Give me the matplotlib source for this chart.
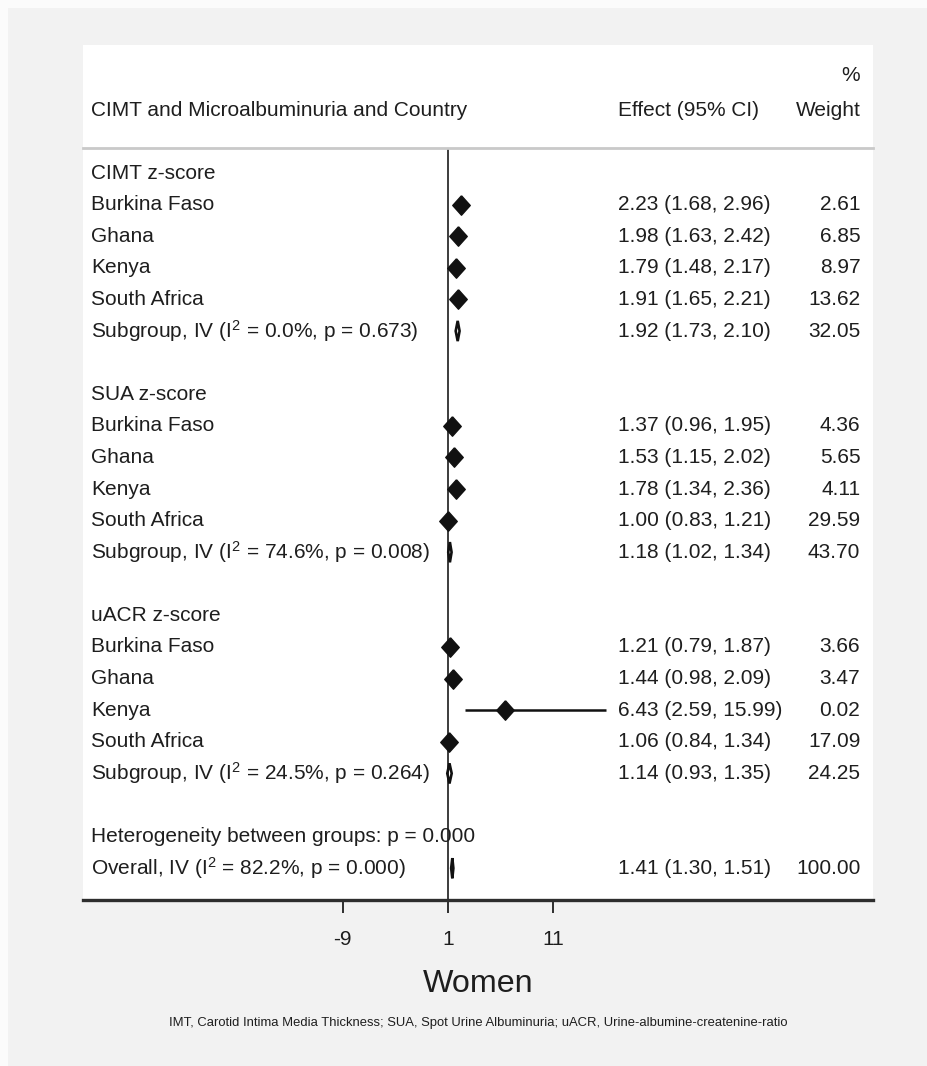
import matplotlib
matplotlib.use("Agg")
import matplotlib.pyplot as plt
from matplotlib import font_manager
from matplotlib.patches import Rectangle, Polygon

# ---------------- data ----------------
group_names = ["CIMT z-score", "SUA z-score", "uACR z-score"]
countries = ["Burkina Faso", "Ghana", "Kenya", "South Africa"]

cimt_est = [2.23, 1.98, 1.79, 1.91]
cimt_lo = [1.68, 1.63, 1.48, 1.65]
cimt_hi = [2.96, 2.42, 2.17, 2.21]
cimt_w = [2.61, 6.85, 8.97, 13.62]

sua_est = [1.37, 1.53, 1.78, 1.00]
sua_lo = [0.96, 1.15, 1.34, 0.83]
sua_hi = [1.95, 2.02, 2.36, 1.21]
sua_w = [4.36, 5.65, 4.11, 29.59]

uacr_est = [1.21, 1.44, 6.43, 1.06]
uacr_lo = [0.79, 0.98, 2.59, 0.84]
uacr_hi = [1.87, 2.09, 15.99, 1.34]
uacr_w = [3.66, 3.47, 0.02, 17.09]

sub_est = [1.92, 1.18, 1.14]
sub_lo = [1.73, 1.02, 0.93]
sub_hi = [2.10, 1.34, 1.35]
sub_w = [32.05, 43.70, 24.25]
sub_i2 = [0.0, 74.6, 24.5]
sub_p = [0.673, 0.008, 0.264]

overall_est, overall_lo, overall_hi, overall_w = 1.41, 1.30, 1.51, 100.00
overall_i2, overall_p = 82.2, 0.000
between_p = 0.000

xticks = [-9, 1, 11]
header_left = "CIMT and Microalbuminuria and Country"
header_effect = "Effect (95% CI)"
header_weight = ["%", "Weight"]
xlabel = "Women"
footnote = ("IMT, Carotid Intima Media Thickness; SUA, Spot Urine Albuminuria; "
            "uACR, Urine-albumine-createnine-ratio")

# ---------------- fonts ----------------
names = {f.name for f in font_manager.fontManager.ttflist}
if "Liberation Sans Narrow" in names:
    FAM = ["Liberation Sans Narrow", "Liberation Sans", "DejaVu Sans"]
    k = 1.0
else:
    FAM = ["Liberation Sans", "DejaVu Sans"]
    k = 0.86
plt.rcParams["font.family"] = FAM
plt.rcParams["mathtext.fontset"] = "custom"
plt.rcParams["mathtext.rm"] = FAM[0]
plt.rcParams["mathtext.it"] = FAM[0]
plt.rcParams["mathtext.bf"] = FAM[0]
FS = 17.5 * k
TXT = "#1e1e1e"

# ---------------- figure ----------------
W, H = 928, 1066
fig = plt.figure(figsize=(W / 100, H / 100), dpi=100)
fig.patch.set_facecolor("#fbfbfb")


def fx(px):
    return px / W


def fy(py):
    return (H - py) / H


# grey background and white panel
fig.add_artist(Rectangle((fx(8), 0), 1 - fx(8), fy(8), transform=fig.transFigure,
                         facecolor="#f2f2f2", edgecolor="none", zorder=0))
fig.add_artist(Rectangle((fx(83), fy(900)), fx(873) - fx(83), fy(45) - fy(900),
                         transform=fig.transFigure, facecolor="white",
                         edgecolor="none", zorder=0.5))

ax = fig.add_axes([fx(83), fy(900), fx(873) - fx(83), fy(148) - fy(900)])
ax.set_facecolor("none")
ax.set_zorder(2)

# rows
rows = []  # (kind, label, est, lo, hi, w)
groups = [
    (cimt_est, cimt_lo, cimt_hi, cimt_w),
    (sua_est, sua_lo, sua_hi, sua_w),
    (uacr_est, uacr_lo, uacr_hi, uacr_w),
]
for g, (e, lo, hi, w) in enumerate(groups):
    rows.append(("head", group_names[g], None, None, None, None))
    for c in range(len(countries)):
        rows.append(("study", countries[c], e[c], lo[c], hi[c], w[c]))
    rows.append(("pool", f"Subgroup, IV (I$^{{2}}$ = {sub_i2[g]:.1f}%, p = {sub_p[g]:.3f})",
                 sub_est[g], sub_lo[g], sub_hi[g], sub_w[g]))
    rows.append(("blank", "", None, None, None, None))
rows.append(("head", f"Heterogeneity between groups: p = {between_p:.3f}",
             None, None, None, None))
rows.append(("pool", f"Overall, IV (I$^{{2}}$ = {overall_i2:.1f}%, p = {overall_p:.3f})",
             overall_est, overall_lo, overall_hi, overall_w))

px_per_unit = 10.53
xmin = 1 + (83 - 448) / px_per_unit
xmax = 1 + (873 - 448) / px_per_unit
ax.set_xlim(xmin, xmax)
row_h = 31.6
ax.set_ylim((900 - 173) / row_h, -(173 - 148) / row_h)

ax.axvline(1, color="#3c3c3c", lw=1.4, zorder=1)

ytr = ax.get_yaxis_transform()
diamond = [(0, 1), (0.9, 0), (0, -1), (-0.9, 0), (0, 1)]
ph = 0.32
XL, XE, XW = 0.0105, 0.677, 0.984
for i, (kind, label, e, lo, hi, w) in enumerate(rows):
    if kind == "blank":
        continue
    ax.text(XL, i, label, transform=ytr, ha="left", va="center",
            fontsize=FS, color=TXT, zorder=3)
    if kind == "study":
        ax.hlines(i, lo, hi, color="#111111", lw=1.8, zorder=3)
        ax.plot([e], [i], marker=diamond, ms=14, color="#111111",
                mec="#111111", zorder=4, ls="none")
    if kind == "pool":
        ax.add_patch(Polygon([(lo, i), (e, i - ph), (hi, i), (e, i + ph)],
                             closed=True, facecolor="none", edgecolor="#111111",
                             lw=1.9, zorder=4))
    if kind in ("study", "pool"):
        ax.text(XE, i, f"{e:.2f} ({lo:.2f}, {hi:.2f})", transform=ytr,
                ha="left", va="center", fontsize=FS, color=TXT)
        ax.text(XW, i, f"{w:.2f}", transform=ytr, ha="right", va="center",
                fontsize=FS, color=TXT)

# headers
yh = -(173 - 110) / row_h
yp = -(173 - 75) / row_h
ax.text(XL, yh, header_left, transform=ytr, ha="left", va="center",
        fontsize=FS, color=TXT, clip_on=False)
ax.text(XE, yh, header_effect, transform=ytr, ha="left", va="center",
        fontsize=FS, color=TXT, clip_on=False)
ax.text(XW, yh, header_weight[1], transform=ytr, ha="right", va="center",
        fontsize=FS, color=TXT, clip_on=False)
ax.text(XW, yp, header_weight[0], transform=ytr, ha="right", va="center",
        fontsize=FS, color=TXT, clip_on=False)

# spines and axis
for s in ("left", "right"):
    ax.spines[s].set_visible(False)
ax.spines["top"].set_color("#c9c9c9")
ax.spines["top"].set_linewidth(2.0)
ax.spines["bottom"].set_color("#2e2e2e")
ax.spines["bottom"].set_linewidth(2.4)
ax.set_yticks([])
ax.set_xticks(xticks)
ax.set_xticklabels([str(t) for t in xticks])
ax.tick_params(axis="x", length=9.5, width=1.4, color="#2e2e2e", pad=12,
               labelsize=FS, labelcolor=TXT)

fig.text(fx(478), fy(984), xlabel, ha="center", va="center",
         fontsize=27 * k, color=TXT)
fig.text(fx(478), fy(1023), footnote, ha="center", va="center",
         fontsize=10.9 * k, color=TXT)

fig.savefig("out.png", dpi=100, facecolor=fig.get_facecolor())
